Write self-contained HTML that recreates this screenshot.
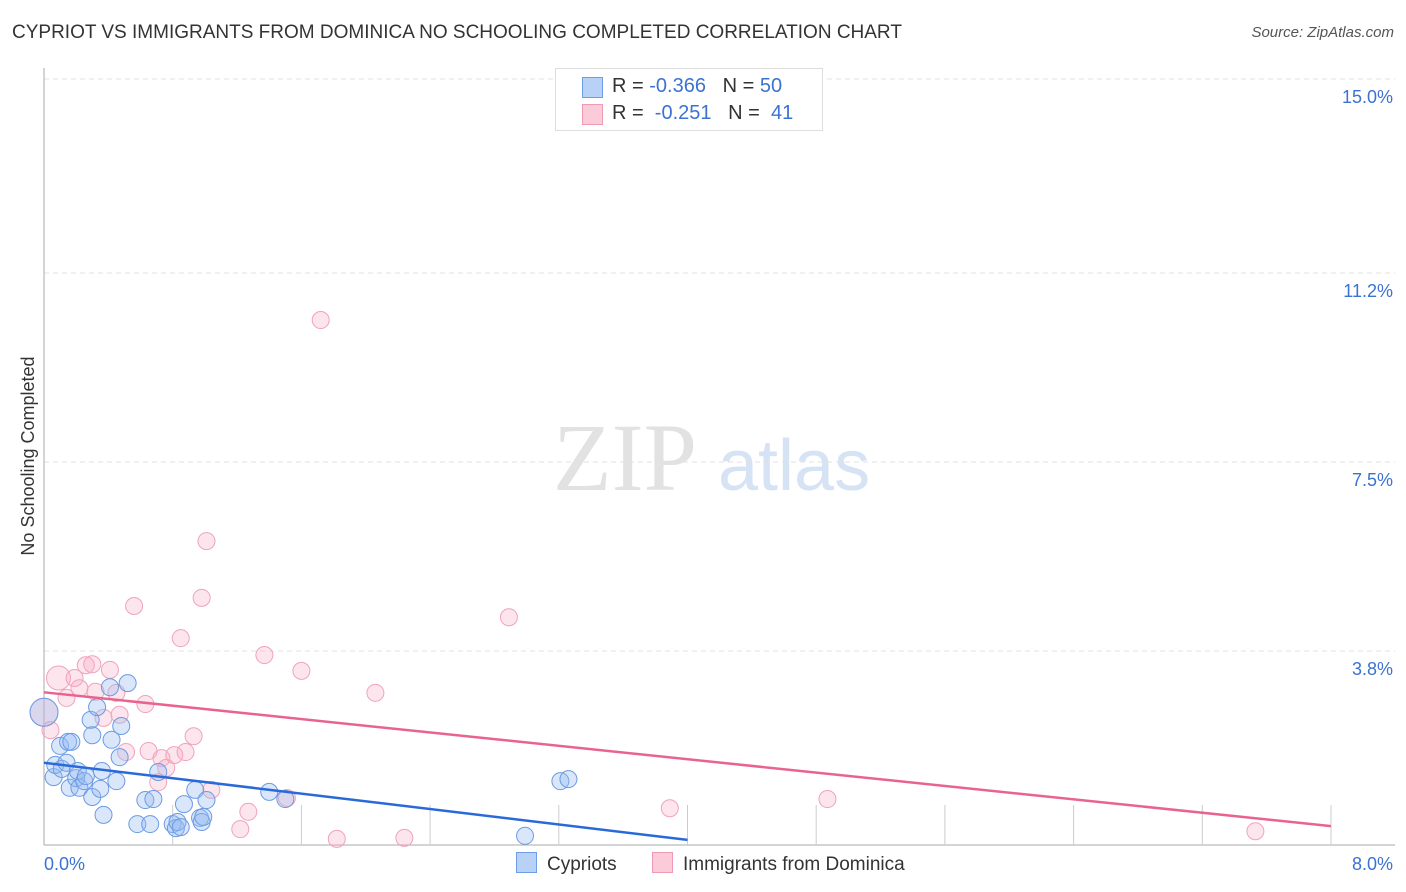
<!DOCTYPE html>
<html><head><meta charset="utf-8">
<style>
body{margin:0;background:#fff;font-family:"Liberation Sans",sans-serif;}
#wrap{position:relative;width:1406px;height:892px;overflow:hidden;}
.t{position:absolute;white-space:nowrap;}
</style></head>
<body>
<div id="wrap">
<div class="t" style="left:12px;top:22px;font-size:19px;color:#333;">CYPRIOT VS IMMIGRANTS FROM DOMINICA NO SCHOOLING COMPLETED CORRELATION CHART</div>
<div class="t" style="right:12px;top:24px;font-size:15px;color:#555;font-style:italic;">Source: ZipAtlas.com</div>
<svg id="svg" width="1406" height="892" style="position:absolute;left:0;top:0"></svg>
</div>
<script>
const yTicks=[3.8,7.5,11.2,15.0];
const yTickLabels=["3.8%","7.5%","11.2%","15.0%"];
const xTickLabels=["0.0%","8.0%"];
const cypX=[0,.06,.07,.10,.11,.14,.15,.17,.16,.20,.21,.22,.25,.26,.29,.30,.30,.33,.35,.36,.37,.41,.42,.45,.47,.48,.52,.58,.63,.66,.68,.71,.80,.82,.83,.85,.87,.94,.97,.98,.99,1.01,1.40,1.50,2.99,3.21,3.26];
const cypY=[2.60,1.33,1.57,1.94,1.49,1.61,2.02,2.02,1.12,1.31,1.45,1.12,1.25,1.35,2.45,2.15,.94,2.70,1.10,1.45,.59,3.09,2.06,1.25,1.72,2.33,3.17,.41,.88,.41,.90,1.43,.41,.33,.45,.35,.80,1.08,.53,.45,.55,.88,1.04,.90,.18,1.25,1.29];
const domX=[0,.04,.09,.14,.19,.22,.26,.30,.32,.37,.41,.45,.47,.51,.56,.63,.65,.71,.73,.76,.81,.85,.88,.93,.98,1.01,1.04,1.22,1.27,1.37,1.51,1.60,1.72,1.82,2.06,2.24,2.89,3.89,4.87,7.53];
const domY=[2.60,2.25,3.27,2.88,3.27,3.07,3.52,3.54,3.00,2.49,3.43,2.98,2.55,1.82,4.68,2.76,1.84,1.23,1.70,1.51,1.76,4.05,1.82,2.13,4.84,5.95,1.08,.31,.65,3.72,.92,3.41,10.28,.12,2.98,.14,4.46,.72,.90,.27];
const cypTrendX=[0,4.0], cypTrendY=[1.61,0.10];
const domTrendX=[0,8.0], domTrendY=[2.99,0.37];

const X0=44,X1=1331,Y0=845,YTOP=79;
const sx=v=>X0+v/8*(X1-X0);
const sy=v=>Y0-v/15*(Y0-YTOP);
const svg=document.getElementById('svg');
const NS='http://www.w3.org/2000/svg';
function mk(tag,attrs,parent){const e=document.createElementNS(NS,tag);for(const k in attrs)e.setAttribute(k,attrs[k]);(parent||svg).appendChild(e);return e;}

let w1=mk('text',{x:553,y:490,'font-size':96,'font-family':'Liberation Serif,serif',fill:'#e2e2e2'});w1.textContent='ZIP';


let w2=mk('text',{x:718,y:490,'font-size':72,'font-family':'Liberation Sans,sans-serif',fill:'#d6e3f5'});w2.textContent='atlas';



yTicks.forEach((v,i)=>{
 const g=mk('line',{x1:X0,x2:1395,y1:sy(v),y2:sy(v),stroke:'#e2e2e2','stroke-dasharray':'5,4'});
 
 
 const t=mk('text',{x:1393,y:sy(v)+24,'text-anchor':'end','font-size':18,fill:'#3c72d2'});
 t.textContent=yTickLabels[i];
 
 
});
const ya=mk('line',{x1:X0,x2:X0,y1:68,y2:Y0,stroke:'#aaa'});


const xa=mk('line',{x1:X0,x2:1395,y1:Y0,y2:Y0,stroke:'#aaa'});


for(let i=1;i<=10;i++){
 const tk=mk('line',{x1:sx(i*0.8),x2:sx(i*0.8),y1:Y0,y2:Y0-40,stroke:'#ccc'});
 
 
}
const xl0=mk('text',{x:44,y:870,'font-size':18,fill:'#3c72d2'});xl0.textContent=xTickLabels[0];


const xl1=mk('text',{x:1393,y:870,'font-size':18,fill:'#3c72d2','text-anchor':'end'});xl1.textContent=xTickLabels[1];


const yt=mk('text',{x:34,y:456,'font-size':18,fill:'#333','text-anchor':'middle',transform:'rotate(-90 34 456)'});yt.textContent='No Schooling Completed';



domX.forEach((x,i)=>{
 const c=mk('circle',{cx:sx(x),cy:sy(domY[i]),r:i==0?14:(i==2?12:8.5),fill:'rgba(248,170,195,0.3)',stroke:'#f0a3bb','stroke-width':1});
 
 
});
cypX.forEach((x,i)=>{
 const c=mk('circle',{cx:sx(x),cy:sy(cypY[i]),r:i==0?14:8.5,fill:'rgba(150,185,240,0.35)',stroke:'#6b9be3','stroke-width':1});
 
 
});
const tl1=mk('line',{x1:sx(domTrendX[0]),y1:sy(domTrendY[0]),x2:sx(domTrendX[1]),y2:sy(domTrendY[1]),stroke:'#e8648f','stroke-width':2.5});


const tl2=mk('line',{x1:sx(cypTrendX[0]),y1:sy(cypTrendY[0]),x2:sx(cypTrendX[1]),y2:sy(cypTrendY[1]),stroke:'#2a6ad8','stroke-width':2.5});


</script>

<div class="t" style="left:555px;top:68px;width:266px;height:61px;border:1px solid #ddd;background:#fff;font-size:20px;">
 <div style="position:absolute;left:26px;top:8px;width:19px;height:19px;background:#b8d1f6;border:1px solid #6e9de6;"></div>
 <div class="t" style="left:56px;top:6px;color:#333;">R = <span style="color:#3c72d2">-0.366</span>&nbsp;&nbsp;&nbsp;N = <span style="color:#3c72d2">50</span></div>
 <div style="position:absolute;left:26px;top:35px;width:19px;height:19px;background:#fccbd9;border:1px solid #ef9ab5;"></div>
 <div class="t" style="left:56px;top:33px;color:#333;">R = &nbsp;<span style="color:#3c72d2">-0.251</span>&nbsp;&nbsp;&nbsp;N = &nbsp;<span style="color:#3c72d2">41</span></div>
</div>

<div class="t" style="left:516px;top:852px;font-size:19px;color:#333;">
 <span style="display:inline-block;width:19px;height:19px;background:#b8d1f6;border:1px solid #6e9de6;vertical-align:-3px;margin-right:10px;"></span>Cypriots</div>
<div class="t" style="left:652px;top:852px;font-size:19px;color:#333;">
 <span style="display:inline-block;width:19px;height:19px;background:#fccbd9;border:1px solid #ef9ab5;vertical-align:-3px;margin-right:10px;"></span>Immigrants from Dominica</div>
</body></html>
